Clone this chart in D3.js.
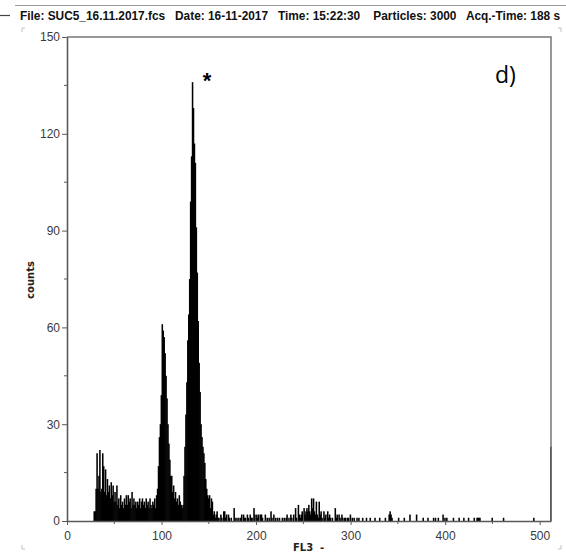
<!DOCTYPE html>
<html>
<head>
<meta charset="utf-8">
<script src="https://cdn.jsdelivr.net/npm/d3@7"></script>
<style>
  html, body { margin: 0; padding: 0; background: #fff; }
  svg { display: block; }
  .pre { white-space: pre; }
</style>
</head>
<body>
<svg id="chart" width="566" height="555"></svg>
<script>
// ---- data ----
const headerText = "File: SUC5_16.11.2017.fcs   Date: 16-11-2017   Time: 15:22:30    Particles: 3000   Acq.-Time: 188 s";
const xTicks = [0, 100, 200, 300, 400, 500];
const yTicks = [0, 30, 60, 90, 120, 150];
const xLabel = "FL3  -";
const yLabel = "counts";
const panelLabel = "d)";
const peakMark = "*";

// dense channels 28..159
const denseStart = 28;
const denseCounts = [
  3, 3, 10, 21, 10, 14, 22, 9, 10, 21, 17, 9, 16, 8, 13, 9, 11, 7, 12, 8,   // 28-47
  11, 6, 9, 6, 11, 5, 7, 4, 8, 5, 6, 4, 7, 5, 8, 5, 8, 6, 7, 4,            // 48-67
  9, 5, 7, 5, 6, 4, 6, 5, 7, 4, 6, 7, 5, 6, 4, 7, 5, 6, 4, 7,              // 68-87
  5, 4, 6, 5, 7, 4, 8, 10, 17, 26, 30, 39, 61, 59, 57, 52, 45, 38, 30, 24, // 88-107
  19, 14, 14, 9, 11, 7, 9, 6, 7, 5, 8, 6, 5, 4, 5, 14, 23, 33, 43, 56,    // 108-127
  64, 75, 99, 113, 136, 128, 117, 111, 91, 77, 62, 49, 40, 30, 26, 23, 21, 18, 13, 10, // 128-147
  8, 7, 8, 4, 7, 6, 2, 3, 1, 2, 3, 1                                     // 148-159
];
// sparse channels 160..511 (non-zero only)
const tailChannels = [160,162,163,165,166,167,168,170,171,173,176,177,179,181,183,184,186,187,188,190,
  191,193,194,195,197,198,200,201,202,204,205,206,209,211,213,215,216,218,220,222,
  224,227,229,231,232,234,236,237,239,241,242,244,245,246,247,248,250,251,252,253,
  254,255,256,257,258,259,260,261,262,263,264,265,266,267,268,269,271,272,273,275,
  276,277,278,280,283,284,285,287,288,290,291,293,294,296,297,299,301,303,306,308,
  312,316,320,325,330,336,340,341,342,343,350,356,362,369,376,381,387,389,392,397,
  399,401,408,414,419,424,430,433,434,435,436,449,461,493,511];
const tailCounts = [1,2,1,3,3,1,2,2,1,1,4,1,1,1,1,2,2,1,1,2,
  1,2,1,1,4,2,2,1,2,2,2,1,2,1,1,3,1,2,1,1,
  1,1,1,1,2,1,2,1,2,4,1,5,2,1,2,3,4,2,3,4,
  3,5,3,2,7,4,7,3,2,6,2,1,6,2,3,1,3,1,2,3,
  1,2,1,1,4,1,2,2,1,2,1,1,1,1,1,2,1,1,1,1,
  1,1,1,1,1,1,2,3,2,1,1,1,2,2,1,1,1,1,1,2,
  1,1,1,1,1,1,1,1,1,1,1,1,1,1,23];

// ---- build bins ----
const bins = denseCounts.map((c, i) => ({ ch: denseStart + i, count: c }))
  .concat(tailChannels.map((ch, i) => ({ ch, count: tailCounts[i] })));

// ---- drawing ----
const svg = d3.select("#chart");
const mLeft = 67, mRight = 551, mTop = 37, mBottom = 521;
const axisColor = "#5a5a5a";
const labelColor = "#3a3a3a";

const x = d3.scaleLinear().domain([0, 512]).range([mLeft, mRight]);
const y = d3.scaleLinear().domain([0, 150]).range([mBottom, mTop]);

// page artefacts
svg.append("line").attr("x1", 15).attr("x2", 566).attr("y1", 5.5).attr("y2", 5.5)
  .attr("stroke", "#9a9a9a").attr("stroke-width", 1.2);
svg.append("line").attr("x1", 0).attr("x2", 10).attr("y1", 15.5).attr("y2", 15.5)
  .attr("stroke", "#444").attr("stroke-width", 1.2);
const corners = [[22, 28, 1, 1], [561, 28, -1, 1], [22, 549, 1, -1], [561, 549, -1, -1]];
corners.forEach(([cx, cy, dx, dy]) => {
  svg.append("path")
    .attr("d", `M${cx},${cy + dy * 4}V${cy}H${cx + dx * 3}`)
    .attr("fill", "none").attr("stroke", "#b0b0b0").attr("stroke-width", 0.8);
});

// header
svg.append("text")
  .attr("class", "pre")
  .attr("x", 20).attr("y", 20)
  .attr("font-family", "Liberation Sans, Arial, sans-serif")
  .attr("font-weight", "bold").attr("font-size", 12)
  .attr("textLength", 540).attr("lengthAdjust", "spacingAndGlyphs")
  .attr("fill", "#111")
  .text(headerText);

// bars
svg.append("g").selectAll("rect").data(bins).join("rect")
  .attr("x", d => x(d.ch))
  .attr("width", d => x(d.ch + 1) - x(d.ch) + 0.6)
  .attr("y", d => y(d.count))
  .attr("height", d => mBottom - y(d.count))
  .attr("fill", "#000");

// frame (top and right)
svg.append("path")
  .attr("d", `M${mLeft},${mTop}H${mRight}V${mBottom}`)
  .attr("fill", "none").attr("stroke", "#777").attr("stroke-width", 1.5);

// y axis
const yAxis = d3.axisLeft(y).tickValues(yTicks).tickSize(5).tickPadding(2).tickSizeOuter(0);
const gy = svg.append("g").attr("transform", `translate(${mLeft},0)`).call(yAxis);
gy.select(".domain").attr("stroke", axisColor).attr("stroke-width", 1.6);
gy.selectAll(".tick line").attr("stroke", axisColor);
gy.selectAll(".tick text").attr("font-family", "Liberation Sans, Arial, sans-serif")
  .attr("font-size", 12).attr("fill", labelColor);
const yMinor = d3.range(15, 150, 30);
svg.append("g").selectAll("line").data(yMinor).join("line")
  .attr("x1", mLeft - 3).attr("x2", mLeft).attr("y1", d => y(d)).attr("y2", d => y(d))
  .attr("stroke", axisColor);

// x axis
const xAxis = d3.axisBottom(x).tickValues(xTicks).tickSize(4).tickPadding(6).tickSizeOuter(0);
const gx = svg.append("g").attr("transform", `translate(0,${mBottom})`).call(xAxis);
gx.select(".domain").attr("stroke", axisColor).attr("stroke-width", 1.6);
gx.selectAll(".tick line").attr("stroke", axisColor);
gx.selectAll(".tick text").attr("font-family", "Liberation Sans, Arial, sans-serif")
  .attr("font-size", 12).attr("fill", labelColor);
const xMinor = d3.range(50, 512, 100);
svg.append("g").selectAll("line").data(xMinor).join("line")
  .attr("x1", d => x(d)).attr("x2", d => x(d)).attr("y1", mBottom).attr("y2", mBottom + 3)
  .attr("stroke", axisColor);

// axis titles
svg.append("text")
  .attr("class", "pre")
  .attr("x", 293).attr("y", 551)
  .attr("font-family", "DejaVu Sans, sans-serif").attr("font-weight", "bold")
  .attr("font-size", 10).attr("fill", "#222")
  .text(xLabel);
svg.append("text")
  .attr("transform", "translate(34,280) rotate(-90)")
  .attr("text-anchor", "middle")
  .attr("font-family", "DejaVu Sans, sans-serif").attr("font-weight", "bold")
  .attr("font-size", 10).attr("fill", "#222")
  .text(yLabel);

// annotations
svg.append("text")
  .attr("x", 207).attr("y", 88)
  .attr("text-anchor", "middle")
  .attr("font-family", "Liberation Sans, Arial, sans-serif").attr("font-weight", "bold")
  .attr("font-size", 22).attr("fill", "#000")
  .text(peakMark);
svg.append("text")
  .attr("x", 495).attr("y", 83)
  .attr("font-family", "Open Sans, Liberation Sans, sans-serif")
  .attr("font-size", 23).attr("fill", "#000")
  .text(panelLabel);
</script>
</body>
</html>
